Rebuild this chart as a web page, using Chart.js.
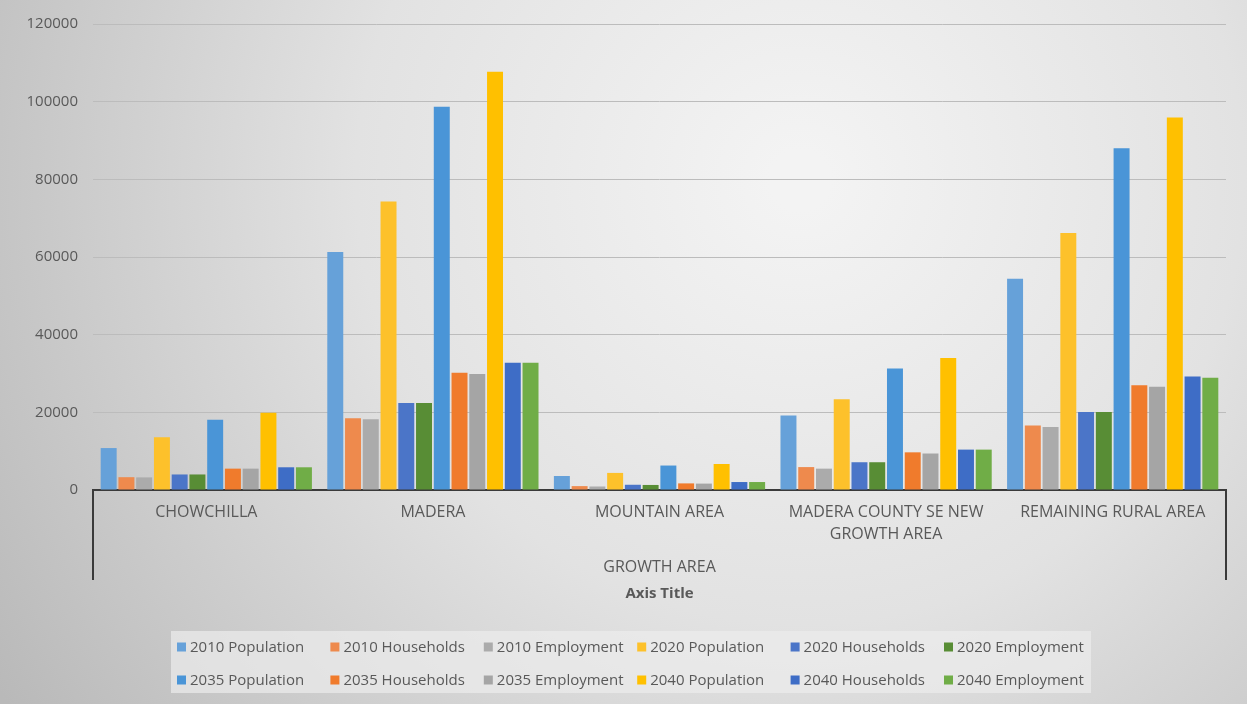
<!DOCTYPE html>
<html>
<head>
<meta charset="utf-8">
<script src="https://cdn.jsdelivr.net/npm/chart.js@4"></script>
<style>
  body { margin: 0; background: #fff; }
  #wrap { width: 1247px; height: 704px; }
</style>
</head>
<body>
<div id="wrap"><canvas id="growthChart" width="1247" height="704"></canvas></div>
<script>
const categories = ['CHOWCHILLA', 'MADERA', 'MOUNTAIN AREA', ['MADERA COUNTY SE NEW', 'GROWTH AREA'], 'REMAINING RURAL AREA'];
const yTicks = [0, 20000, 40000, 60000, 80000, 100000, 120000];

const pop2010 = [10800, 61300, 3600, 19200, 54400];
const hh2010  = [3300, 18500, 1000, 5900, 16600];
const emp2010 = [3250, 18200, 900, 5500, 16200];
const pop2020 = [13600, 74300, 4400, 23400, 66200];
const hh2020  = [4000, 22400, 1350, 7150, 20100];
const emp2020 = [4000, 22400, 1300, 7150, 20100];
const pop2035 = [18100, 98700, 6300, 31300, 88000];
const hh2035  = [5500, 30200, 1700, 9700, 27000];
const emp2035 = [5500, 29900, 1650, 9400, 26600];
const pop2040 = [19900, 107700, 6700, 34000, 95900];
const hh2040  = [5850, 32800, 2050, 10400, 29200];
const emp2040 = [5850, 32800, 2050, 10400, 28900];

const seriesNames = ['2010 Population', '2010 Households', '2010 Employment',
                     '2020 Population', '2020 Households', '2020 Employment',
                     '2035 Population', '2035 Households', '2035 Employment',
                     '2040 Population', '2040 Households', '2040 Employment'];
const seriesData = [pop2010, hh2010, emp2010, pop2020, hh2020, emp2020,
                    pop2035, hh2035, emp2035, pop2040, hh2040, emp2040];
const seriesColors = ['#66a1d9', '#ee8a4d', '#ababab', '#fdc12b', '#4b75c8', '#588d35',
                      '#4a95d7', '#f07b2c', '#a5a5a5', '#ffc000', '#3e6dc6', '#70ad47'];

const textColor = '#595959';
const font = 'Open Sans';

// gray radial background like the office chart style
const bgPlugin = {
    id: 'bg',
    beforeDraw(chart) {
        const c = chart.ctx;
        const w = chart.width, h = chart.height;
        c.save();
        const g = c.createRadialGradient(800, 180, 30, 800, 180, 950);
        g.addColorStop(0, '#f3f3f3');
        g.addColorStop(0.45, '#e2e2e2');
        g.addColorStop(1, '#b9b9b9');
        c.fillStyle = g;
        c.fillRect(0, 0, w, h);
        c.restore();
    }
};

const extrasPlugin = {
    id: 'extras',
    afterDraw(chart) {
        const c = chart.ctx;
        const a = chart.chartArea;
        c.save();
        // multi-level category box
        c.strokeStyle = '#3a3a3a';
        c.lineWidth = 2;
        c.beginPath();
        c.moveTo(a.left, a.bottom);
        c.lineTo(a.left, 580);
        c.moveTo(a.right, a.bottom);
        c.lineTo(a.right, 580);
        c.stroke();

        c.fillStyle = textColor;
        c.textAlign = 'center';
        c.textBaseline = 'middle';
        c.font = '16px "' + font + '"';
        const mid = (a.left + a.right) / 2;
        c.fillText('GROWTH AREA', mid, 567);
        c.font = 'bold 15px "' + font + '"';
        c.fillText('Axis Title', mid, 594);

        // legend
        c.fillStyle = 'rgba(236,236,236,0.7)';
        c.fillRect(171, 631, 920, 62);
        c.font = '15px "' + font + '"';
        c.textAlign = 'left';
        const sets = chart.data.datasets;
        for (let i = 0; i < sets.length; i++) {
            const col = i % 6, row = Math.floor(i / 6);
            const x = 177 + col * 153.4;
            const y = 647 + row * 33;
            c.fillStyle = sets[i].backgroundColor;
            c.fillRect(x, y - 4.5, 9, 9);
            c.fillStyle = textColor;
            c.fillText(sets[i].label, x + 13, y + 1);
        }
        c.restore();
    }
};

const ctx = document.getElementById('growthChart').getContext('2d');
const growthChart = new Chart(ctx, {
    type: 'bar',
    data: {
        labels: categories,
        datasets: seriesNames.map((name, i) => ({
            label: name,
            data: seriesData[i],
            backgroundColor: seriesColors[i],
            borderWidth: 0,
            barPercentage: 0.9,
            categoryPercentage: 0.94
        }))
    },
    options: {
        responsive: false,
        animation: false,
        layout: { padding: { left: 0, right: 21, top: 24, bottom: 0 } },
        plugins: {
            legend: { display: false },
            tooltip: { enabled: false }
        },
        scales: {
            x: {
                grid: { display: false, drawTicks: false },
                border: { display: true, color: '#3a3a3a', width: 2 },
                ticks: {
                    color: textColor,
                    font: { family: font, size: 16, lineHeight: 1.4 },
                    padding: 11,
                    maxRotation: 0,
                    autoSkip: false
                },
                afterFit(scale) { scale.height = 214; }
            },
            y: {
                min: 0,
                max: 120000,
                afterBuildTicks(scale) { scale.ticks = yTicks.map(v => ({ value: v })); },
                grid: { color: '#bcbcbc', lineWidth: 1, drawTicks: false },
                border: { display: false },
                ticks: {
                    color: textColor,
                    font: { family: font, size: 15 },
                    padding: 15,
                    callback: v => String(v)
                },
                afterFit(scale) { scale.width = 93; }
            }
        }
    },
    plugins: [bgPlugin, extrasPlugin]
});
</script>
</body>
</html>
